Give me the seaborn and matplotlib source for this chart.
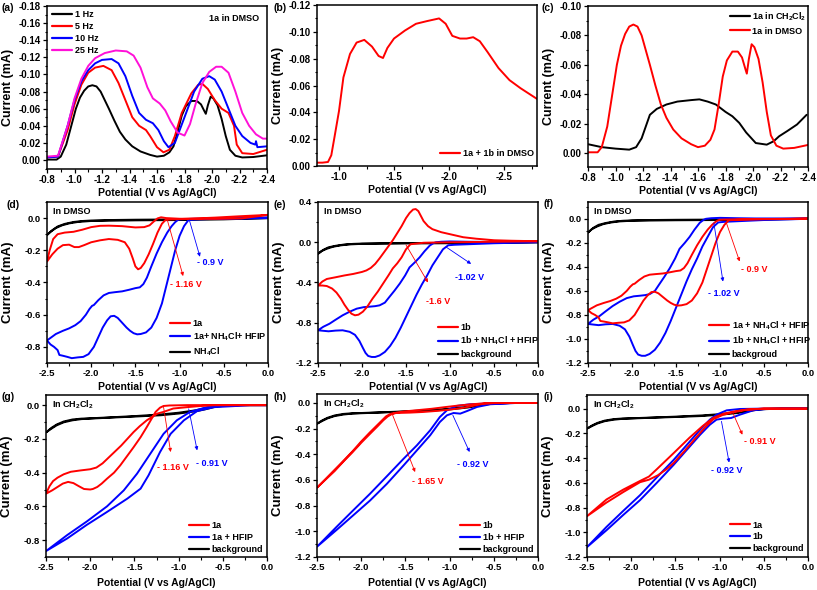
import matplotlib
matplotlib.use('Agg')
import matplotlib.pyplot as plt
import seaborn as sns
from matplotlib.lines import Line2D
from matplotlib.ticker import FixedLocator, MultipleLocator, FormatStrFormatter

# ---------------- data ----------------
# (a) square-wave voltammetry of 1a in DMSO at different frequencies
dmso_1a_v = [-0.80, -0.87, -0.90, -0.94, -0.98, -1.01, -1.04, -1.07, -1.10, -1.13, -1.16, -1.19, -1.22, -1.25,
             -1.29, -1.33, -1.37, -1.42, -1.48, -1.55, -1.60, -1.65, -1.69, -1.72, -1.75, -1.78, -1.81, -1.85,
             -1.89, -1.92, -1.945, -1.955, -1.97, -1.99, -2.01, -2.04, -2.07, -2.10, -2.13, -2.17, -2.22, -2.30, -2.40]
dmso_1a_i = [-0.0005, -0.0005, -0.004, -0.018, -0.042, -0.060, -0.073, -0.081, -0.086, -0.0874, -0.086, -0.080,
             -0.070, -0.060, -0.046, -0.033, -0.024, -0.016, -0.010, -0.006, -0.004, -0.005, -0.009, -0.016, -0.033,
             -0.052, -0.063, -0.069, -0.069, -0.065, -0.057, -0.054, -0.064, -0.074, -0.072, -0.064, -0.048, -0.028,
             -0.012, -0.005, -0.003, -0.0035, -0.0055]
hz5_v = [-0.80, -0.88, -0.95, -1.00, -1.05, -1.10, -1.15, -1.21, -1.27, -1.32, -1.37, -1.42, -1.47, -1.52, -1.55,
         -1.60, -1.647, -1.69, -1.73, -1.78, -1.85, -1.90, -1.93, -1.97, -2.02, -2.07, -2.12, -2.16, -2.18, -2.22,
         -2.30, -2.40]
hz5_i = [-0.003, -0.004, -0.035, -0.065, -0.088, -0.102, -0.108, -0.110, -0.105, -0.090, -0.070, -0.050, -0.040,
         -0.035, -0.028, -0.015, -0.009, -0.012, -0.028, -0.055, -0.078, -0.088, -0.089, -0.083, -0.070, -0.060,
         -0.055, -0.040, -0.018, -0.008, -0.007, -0.012]
hz10_v = [-0.80, -0.88, -0.95, -1.00, -1.05, -1.10, -1.15, -1.20, -1.27, -1.32, -1.37, -1.42, -1.47, -1.52, -1.57,
          -1.61, -1.65, -1.683, -1.73, -1.80, -1.87, -1.93, -1.98, -2.02, -2.07, -2.12, -2.17, -2.22, -2.28, -2.315,
          -2.32, -2.33, -2.40]
hz10_i = [-0.003, -0.004, -0.040, -0.070, -0.092, -0.105, -0.113, -0.117, -0.118, -0.113, -0.098, -0.075, -0.055,
          -0.047, -0.043, -0.035, -0.022, -0.015, -0.020, -0.050, -0.080, -0.095, -0.098, -0.094, -0.080, -0.060,
          -0.040, -0.028, -0.020, -0.018, -0.022, -0.015, -0.016]
hz25_v = [-0.80, -0.88, -0.95, -1.00, -1.05, -1.10, -1.15, -1.22, -1.30, -1.38, -1.43, -1.48, -1.53, -1.57, -1.62,
          -1.66, -1.70, -1.75, -1.80, -1.84, -1.88, -1.93, -1.98, -2.03, -2.07, -2.12, -2.17, -2.22, -2.27, -2.32,
          -2.37, -2.40]
hz25_i = [-0.004, -0.005, -0.040, -0.072, -0.095, -0.110, -0.119, -0.125, -0.128, -0.127, -0.122, -0.108, -0.085,
          -0.072, -0.066, -0.058, -0.045, -0.032, -0.0286, -0.042, -0.065, -0.090, -0.103, -0.109, -0.109, -0.102,
          -0.080, -0.055, -0.040, -0.030, -0.025, -0.025]

# (b) 1a + 1b in DMSO
mix_v = [-0.80, -0.85, -0.90, -0.93, -0.96, -1.00, -1.04, -1.10, -1.16, -1.23, -1.30, -1.36, -1.40, -1.44, -1.50,
         -1.60, -1.70, -1.80, -1.91, -1.97, -2.03, -2.10, -2.16, -2.22, -2.28, -2.35, -2.45, -2.55, -2.65, -2.80]
mix_i = [-0.0025, -0.0025, -0.003, -0.008, -0.022, -0.041, -0.066, -0.0835, -0.092, -0.094, -0.089, -0.082,
         -0.0805, -0.088, -0.095, -0.101, -0.106, -0.108, -0.110, -0.106, -0.097, -0.095, -0.095, -0.096, -0.093,
         -0.085, -0.073, -0.064, -0.058, -0.050]

# (c) 1a in CH2Cl2
dcm_1a_v = [-0.80, -0.85, -0.90, -1.00, -1.10, -1.15, -1.19, -1.22, -1.25, -1.30, -1.37, -1.45, -1.55, -1.61, -1.67,
            -1.73, -1.80, -1.85, -1.90, -1.95, -2.02, -2.10, -2.15, -2.19, -2.25, -2.32, -2.39]
dcm_1a_i = [-0.006, -0.005, -0.004, -0.003, -0.0023, -0.004, -0.010, -0.018, -0.026, -0.030, -0.033, -0.035,
            -0.036, -0.0365, -0.035, -0.033, -0.028, -0.025, -0.0205, -0.014, -0.0068, -0.0057, -0.008, -0.0114,
            -0.015, -0.0194, -0.026]

# (d) CVs in DMSO
d_1a_v = [0.0, -0.3, -0.6, -0.9, -1.1, -1.16, -1.20, -1.25, -1.30, -1.35, -1.40, -1.44, -1.47, -1.50, -1.53, -1.57,
          -1.62, -1.70, -1.80, -1.90, -2.00, -2.08, -2.14, -2.19, -2.25, -2.32, -2.38, -2.44, -2.50,
          -2.47, -2.43, -2.38, -2.30, -2.20, -2.10, -2.00, -1.90, -1.80, -1.65, -1.50, -1.40, -1.34, -1.29, -1.25,
          -1.21, -1.15, -1.00, -0.60, -0.30, 0.0]
d_1a_i = [0.02, 0.012, 0.003, -0.004, -0.008, -0.012, -0.035, -0.09, -0.16, -0.225, -0.28, -0.31, -0.318, -0.30,
          -0.25, -0.19, -0.15, -0.135, -0.13, -0.138, -0.15, -0.168, -0.18, -0.18, -0.165, -0.168, -0.19, -0.225,
          -0.27,
          -0.20, -0.13, -0.10, -0.09, -0.085, -0.072, -0.056, -0.048, -0.047, -0.05, -0.058, -0.056, -0.045, -0.02,
          -0.002, 0.005, 0.0, -0.004, -0.005, -0.002, 0.02]
am_nh4_v = [0.0, -0.5, -0.8, -0.90, -0.95, -1.00, -1.05, -1.10, -1.15, -1.20, -1.26, -1.32, -1.38, -1.44, -1.48,
            -1.52, -1.56, -1.60, -1.65, -1.70, -1.74, -1.78, -1.82, -1.87, -1.92, -1.97, -2.03, -2.09, -2.15, -2.22,
            -2.27, -2.32, -2.36, -2.38, -2.42, -2.46, -2.50,
            -2.45, -2.40, -2.32, -2.25, -2.18, -2.12, -2.06, -2.02, -1.99, -1.97, -1.92, -1.86, -1.80, -1.73, -1.65,
            -1.57, -1.50, -1.45, -1.41, -1.37, -1.32, -1.26, -1.20, -1.14, -1.09, -1.05, -1.02, -1.00, -0.95, -0.8,
            -0.5, -0.2, 0.0]
am_nh4_i = [0.0, -0.003, -0.008, -0.012, -0.05, -0.11, -0.20, -0.31, -0.42, -0.53, -0.62, -0.68, -0.71, -0.72,
            -0.722, -0.715, -0.70, -0.68, -0.65, -0.62, -0.607, -0.61, -0.635, -0.68, -0.74, -0.80, -0.845, -0.862,
            -0.865, -0.87, -0.862, -0.855, -0.85, -0.82, -0.80, -0.785, -0.76,
            -0.74, -0.72, -0.70, -0.685, -0.665, -0.64, -0.60, -0.565, -0.545, -0.54, -0.51, -0.48, -0.465, -0.46,
            -0.455, -0.445, -0.435, -0.43, -0.41, -0.37, -0.30, -0.22, -0.15, -0.09, -0.05, -0.025, -0.012, -0.008,
            -0.006, -0.004, -0.002, 0.0, 0.005]
nh4_v = [0.0, -0.5, -1.0, -1.5, -1.8, -2.0, -2.1, -2.2, -2.3, -2.38, -2.44, -2.50,
         -2.46, -2.40, -2.33, -2.25, -2.15, -2.0, -1.5, -1.0, -0.5, 0.0]
nh4_i = [0.0, -0.003, -0.008, -0.010, -0.012, -0.015, -0.018, -0.024, -0.036, -0.052, -0.075, -0.105,
         -0.085, -0.062, -0.045, -0.033, -0.024, -0.018, -0.014, -0.012, -0.008, 0.0]

# (e) CVs of 1b in DMSO
e_1b_v = [0.0, -0.5, -1.0, -1.30, -1.45, -1.50, -1.55, -1.60, -1.65, -1.70, -1.76, -1.82, -1.88, -1.94, -1.99, -2.04,
          -2.08, -2.12, -2.16, -2.20, -2.24, -2.29, -2.34, -2.40, -2.45, -2.50,
          -2.45, -2.40, -2.30, -2.20, -2.10, -2.00, -1.95, -1.90, -1.85, -1.80, -1.75, -1.70, -1.65, -1.60, -1.55,
          -1.50, -1.46, -1.42, -1.39, -1.36, -1.33, -1.30, -1.25, -1.20, -1.10, -1.00, -0.85, -0.70, -0.50, -0.30,
          0.0]
e_1b_i = [0.01, 0.005, 0.0, -0.005, -0.02, -0.07, -0.15, -0.21, -0.26, -0.33, -0.41, -0.49, -0.56, -0.64, -0.69,
          -0.72, -0.726, -0.71, -0.67, -0.62, -0.56, -0.50, -0.46, -0.435, -0.43, -0.43,
          -0.39, -0.365, -0.348, -0.33, -0.315, -0.295, -0.28, -0.255, -0.215, -0.16, -0.10, -0.04, 0.02, 0.09,
          0.16, 0.24, 0.29, 0.325, 0.33, 0.31, 0.26, 0.21, 0.16, 0.13, 0.10, 0.08, 0.05, 0.035, 0.02, 0.015, 0.01]
bm_nh4_v = [0.0, -0.5, -0.8, -0.95, -1.02, -1.08, -1.14, -1.20, -1.26, -1.32, -1.38, -1.44, -1.50, -1.56, -1.62,
            -1.68, -1.74, -1.80, -1.85, -1.89, -1.93, -1.96, -1.99, -2.03, -2.08, -2.14, -2.22, -2.30, -2.38, -2.44,
            -2.50,
            -2.44, -2.37, -2.30, -2.22, -2.14, -2.06, -1.98, -1.91, -1.85, -1.80, -1.74, -1.69, -1.63, -1.57, -1.51,
            -1.46, -1.40, -1.345, -1.29, -1.23, -1.19, -1.16, -1.10, -1.0, -0.8, -0.6, -0.3, 0.0]
bm_nh4_i = [0.0, -0.01, -0.02, -0.025, -0.03, -0.07, -0.15, -0.23, -0.33, -0.42, -0.52, -0.63, -0.74, -0.85,
            -0.95, -1.03, -1.09, -1.125, -1.14, -1.14, -1.13, -1.10, -1.05, -0.98, -0.92, -0.89, -0.875, -0.878,
            -0.885, -0.88, -0.875,
            -0.84, -0.81, -0.77, -0.726, -0.69, -0.66, -0.645, -0.64, -0.635, -0.627, -0.60, -0.545, -0.48, -0.41,
            -0.33, -0.25, -0.20, -0.15, -0.09, -0.033, -0.01, 0.0, 0.005, 0.008, 0.005, 0.003, 0.003, 0.005]
bg_dmso_v = [0.0, -0.5, -1.0, -1.5, -1.8, -2.0, -2.1, -2.2, -2.3, -2.38, -2.44, -2.50,
             -2.46, -2.40, -2.33, -2.25, -2.15, -2.0, -1.5, -1.0, -0.5, 0.0]
bg_dmso_i = [0.0, -0.003, -0.006, -0.008, -0.010, -0.013, -0.016, -0.022, -0.035, -0.050, -0.075, -0.115,
             -0.088, -0.065, -0.045, -0.032, -0.022, -0.016, -0.012, -0.010, -0.006, 0.0]

# (g)-(i) CVs in CH2Cl2
g_1a_v = [0.0, -0.5, -0.9, -1.10, -1.17, -1.21, -1.26, -1.31, -1.36, -1.43, -1.51, -1.58, -1.66, -1.73, -1.81, -1.87,
          -1.92, -1.97, -2.00, -2.07, -2.13, -2.19, -2.25, -2.31, -2.37, -2.43, -2.50,
          -2.46, -2.42, -2.37, -2.30, -2.22, -2.11, -2.00, -1.93, -1.86, -1.79, -1.72, -1.65, -1.58, -1.51, -1.44,
          -1.36, -1.30, -1.24, -1.17, -1.06, -0.90, -0.75, -0.60, -0.3, 0.0]
g_1a_i = [0.0, 0.0, 0.0, -0.002, -0.005, -0.015, -0.04, -0.085, -0.13, -0.19, -0.25, -0.30, -0.357, -0.40, -0.436,
          -0.465, -0.485, -0.497, -0.50, -0.497, -0.48, -0.462, -0.455, -0.465, -0.485, -0.505, -0.525,
          -0.48, -0.45, -0.43, -0.41, -0.395, -0.387, -0.38, -0.37, -0.345, -0.31, -0.275, -0.24, -0.20, -0.16,
          -0.125, -0.09, -0.07, -0.05, -0.04, -0.02, -0.012, -0.005, 0.0, 0.0, 0.0]
g_hfip_v = [0.0, -0.3, -0.53, -0.68, -0.87, -1.02, -1.17, -1.32, -1.47, -1.62, -1.81, -2.04, -2.26, -2.50,
            -2.26, -2.04, -1.81, -1.58, -1.43, -1.34, -1.21, -1.09, -0.94, -0.79, -0.60, -0.38, -0.19, 0.0]
g_hfip_i = [0.0, 0.0, 0.0, -0.012, -0.04, -0.09, -0.17, -0.288, -0.406, -0.505, -0.60, -0.69, -0.77, -0.865,
            -0.79, -0.71, -0.633, -0.554, -0.495, -0.416, -0.278, -0.17, -0.09, -0.035, -0.012, -0.006, 0.0, 0.0]
h_1b_v = [0.0, -0.3, -0.6, -0.75, -0.9, -1.05, -1.2, -1.35, -1.5, -1.6, -1.65, -1.70, -1.75, -1.82, -1.90, -2.00,
          -2.10, -2.20, -2.30, -2.40, -2.50,
          -2.40, -2.30, -2.20, -2.10, -2.00, -1.90, -1.80, -1.72, -1.67, -1.60, -1.45, -1.30, -1.15, -1.00, -0.85,
          -0.72, -0.62, -0.5, 0.0]
h_1b_i = [0.0, 0.0, -0.002, -0.01, -0.02, -0.032, -0.045, -0.055, -0.065, -0.075, -0.085, -0.105, -0.135, -0.185,
          -0.24, -0.31, -0.385, -0.455, -0.53, -0.595, -0.66,
          -0.59, -0.52, -0.45, -0.378, -0.30, -0.228, -0.16, -0.105, -0.085, -0.078, -0.075, -0.07, -0.062, -0.052,
          -0.038, -0.02, -0.006, 0.0, 0.0]
h_hfip_v = [0.0, -0.25, -0.39, -0.54, -0.69, -0.80, -0.88, -0.955, -1.03, -1.11, -1.22, -1.37, -1.52, -1.71, -1.90,
            -2.09, -2.28, -2.50,
            -2.28, -2.09, -1.90, -1.71, -1.52, -1.37, -1.22, -1.11, -1.03, -0.92, -0.77, -0.58, -0.3, 0.0]
h_hfip_i = [0.0, 0.0, -0.005, -0.01, -0.031, -0.062, -0.083, -0.078, -0.096, -0.148, -0.252, -0.369, -0.486, -0.63,
            -0.76, -0.875, -0.99, -1.12,
            -0.966, -0.836, -0.707, -0.571, -0.434, -0.33, -0.213, -0.109, -0.057, -0.023, -0.01, -0.005, 0.0, 0.0]
i_1a_v = [0.0, -0.5, -0.7, -0.85, -0.96, -1.07, -1.17, -1.28, -1.40, -1.52, -1.60, -1.70, -1.80, -1.90, -2.09, -2.28,
          -2.50,
          -2.28, -2.09, -1.90, -1.80, -1.71, -1.52, -1.34, -1.19, -1.07, -0.96, -0.85, -0.70, -0.5, 0.0]
i_1a_i = [0.0, 0.0, -0.01, -0.03, -0.05, -0.085, -0.155, -0.245, -0.345, -0.44, -0.49, -0.54, -0.575, -0.595,
          -0.675, -0.76, -0.87,
          -0.735, -0.655, -0.585, -0.55, -0.49, -0.36, -0.235, -0.14, -0.075, -0.042, -0.025, -0.008, 0.0, 0.0]
i_1b_v = [0.0, -0.25, -0.47, -0.62, -0.77, -0.87, -0.96, -1.035, -1.11, -1.22, -1.37, -1.52, -1.71, -1.90, -2.09,
          -2.28, -2.50,
          -2.28, -2.09, -1.90, -1.71, -1.52, -1.37, -1.22, -1.11, -1.035, -0.92, -0.77, -0.5, 0.0]
i_1b_i = [0.0, 0.0, -0.003, -0.014, -0.049, -0.076, -0.081, -0.089, -0.13, -0.211, -0.333, -0.455, -0.60, -0.74,
          -0.86, -0.984, -1.12,
          -0.957, -0.827, -0.70, -0.556, -0.415, -0.293, -0.171, -0.089, -0.049, -0.014, -0.003, 0.0, 0.0]
bg_dcm_v = [0.0, -0.3, -0.5, -0.6, -0.7, -0.8, -1.0, -1.2, -1.5, -1.8, -2.0, -2.1, -2.2, -2.3, -2.38, -2.44, -2.50,
            -2.44, -2.38, -2.3, -2.2, -2.1, -2.0, -1.8, -1.5, -1.2, -1.0, -0.8, -0.7, -0.6, -0.5, -0.3, 0.0]
bg_dcm_i = [0.0, 0.0, -0.003, -0.008, -0.018, -0.030, -0.045, -0.055, -0.065, -0.073, -0.078, -0.080, -0.085,
            -0.097, -0.115, -0.135, -0.162,
            -0.140, -0.120, -0.102, -0.090, -0.083, -0.080, -0.075, -0.068, -0.060, -0.050, -0.036, -0.025, -0.012,
            -0.005, 0.0, 0.0]

# tick values
ticks_a_y = [0.00, -0.02, -0.04, -0.06, -0.08, -0.10, -0.12, -0.14, -0.16, -0.18]
ticks_b_y = [0.00, -0.02, -0.04, -0.06, -0.08, -0.10, -0.12]
ticks_c_y = [0.00, -0.02, -0.04, -0.06, -0.08, -0.10]
ticks_ac_x = [-0.8, -1.0, -1.2, -1.4, -1.6, -1.8, -2.0, -2.2, -2.4]
ticks_b_x = [-1.0, -1.5, -2.0, -2.5]
ticks_cv_x = [-2.5, -2.0, -1.5, -1.0, -0.5, 0.0]
ticks_d_y = [0.0, -0.2, -0.4, -0.6, -0.8]
ticks_e_y = [0.4, 0.0, -0.4, -0.8, -1.2]
ticks_f_y = [0.0, -0.2, -0.4, -0.6, -0.8, -1.0, -1.2]

# ---------------- styling ----------------
sns.set_theme(style='ticks')
plt.rcParams['font.family'] = ['Liberation Sans', 'DejaVu Sans']
plt.rcParams['font.weight'] = 'bold'
plt.rcParams['axes.labelweight'] = 'bold'
plt.rcParams['axes.unicode_minus'] = False
plt.rcParams['mathtext.fontset'] = 'custom'
plt.rcParams['mathtext.rm'] = 'Liberation Sans:bold'
plt.rcParams['mathtext.it'] = 'Liberation Sans:bold'
plt.rcParams['mathtext.bf'] = 'Liberation Sans:bold'
plt.rcParams['text.color'] = 'black'
plt.rcParams['axes.labelcolor'] = 'black'
plt.rcParams['xtick.color'] = 'black'
plt.rcParams['ytick.color'] = 'black'

RED = '#ff0000'
BLUE = '#0000ff'
BLACK = '#000000'
MAG = '#ff10d8'

W, H = 817, 590
fig = plt.figure(figsize=(W / 100, H / 100), dpi=100)


def add_ax(l, t, r, b):
    return fig.add_axes([l / W, 1 - b / H, (r - l) / W, (b - t) / H])


def curve(ax, v, i, color, lw=1.4):
    sns.lineplot(x=v, y=i, sort=False, estimator=None, color=color, linewidth=lw, ax=ax)


def style(ax, xlim, ylim, xt, yt, xminor, yminor, xfmt, yfmt, tsize, ysize, xlab_y, ylab_x=-0.15):
    ax.set_xlim(xlim)
    ax.set_ylim(ylim)
    ax.xaxis.set_major_locator(FixedLocator(xt))
    ax.yaxis.set_major_locator(FixedLocator(yt))
    ax.xaxis.set_minor_locator(MultipleLocator(xminor))
    ax.yaxis.set_minor_locator(MultipleLocator(yminor))
    ax.xaxis.set_major_formatter(FormatStrFormatter(xfmt))
    ax.yaxis.set_major_formatter(FormatStrFormatter(yfmt))
    ax.tick_params(which='major', direction='out', length=3, width=0.9, labelsize=tsize, pad=1.5)
    ax.tick_params(which='minor', direction='out', length=1.8, width=0.8)
    for sp in ax.spines.values():
        sp.set_visible(True)
        sp.set_linewidth(1.1)
        sp.set_color('black')
    ax.set_xlabel('Potential (V vs Ag/AgCl)', fontsize=7.5, fontweight='bold')
    ax.set_ylabel('Current (mA)', fontsize=ysize, fontweight='bold')
    ax.xaxis.set_label_coords(0.5, xlab_y)
    ax.yaxis.set_label_coords(ylab_x, 0.5)
    for lab in ax.get_xticklabels() + ax.get_yticklabels():
        lab.set_fontweight('bold')


def legend(ax, entries, loc, anchor, size=6.5, sp=0.3):
    handles = [Line2D([], [], color=c, lw=1.6) for c, _ in entries]
    labels = [t for _, t in entries]
    ax.legend(handles, labels, loc=loc, bbox_to_anchor=anchor, frameon=False,
              handlelength=2.2, handletextpad=0.3, labelspacing=sp, borderpad=0, borderaxespad=0,
              prop={'weight': 'bold', 'size': size})


def arrow(ax, start, end, color, text, tpos):
    ax.annotate('', xy=end, xytext=start,
                arrowprops=dict(arrowstyle='-|>', color=color, lw=0.6, mutation_scale=5,
                                shrinkA=0, shrinkB=0))
    ax.text(tpos[0], tpos[1], text, color=color, fontsize=6.5, fontweight='bold', ha='left', va='center')


# (a)
ax = add_ax(47, 6, 267, 169)
curve(ax, dmso_1a_v, dmso_1a_i, BLACK)
curve(ax, hz5_v, hz5_i, RED)
curve(ax, hz10_v, hz10_i, BLUE)
curve(ax, hz25_v, hz25_i, MAG)
style(ax, (-0.8, -2.4), (0.0105, -0.18), ticks_ac_x, ticks_a_y, 0.1, 0.01, '%.1f', '%.2f', 7, 9, -0.115)
legend(ax, [(BLACK, '1 Hz'), (RED, '5 Hz'), (BLUE, '10 Hz'), (MAG, '25 Hz')], 'upper left', (0.023, 0.975),
       sp=0.32)
ax.text(0.965, 0.925, '1a in DMSO', transform=ax.transAxes, ha='right', va='center', fontsize=6.5,
        fontweight='bold')

# (b)
ax = add_ax(317, 5, 537, 166)
curve(ax, mix_v, mix_i, RED)
style(ax, (-0.8, -2.8), (0.0, -0.12), ticks_b_x, ticks_b_y, 0.25, 0.01, '%.1f', '%.2f', 7, 9, -0.12)
legend(ax, [(RED, '1a + 1b in DMSO')], 'lower left', (0.559, 0.05))

# (c)
ax = add_ax(588, 6, 808, 167)
curve(ax, dcm_1a_v, dcm_1a_i, BLACK)
curve(ax, dmso_1a_v, dmso_1a_i, RED)
style(ax, (-0.8, -2.4), (0.0095, -0.10), ticks_ac_x, ticks_c_y, 0.1, 0.01, '%.1f', '%.2f', 7, 9, -0.12)
legend(ax, [(BLACK, '1a in CH$_2$Cl$_2$'), (RED, '1a in DMSO')], 'upper left', (0.645, 0.975), sp=0.45)

# (d)
ax = add_ax(47, 202, 268, 363)
curve(ax, nh4_v, nh4_i, BLACK)
curve(ax, am_nh4_v, am_nh4_i, BLUE)
curve(ax, d_1a_v, d_1a_i, RED)
style(ax, (-2.5, 0.0), (-0.9, 0.1), ticks_cv_x, ticks_d_y, 0.25, 0.1, '%.1f', '%.1f', 6.8, 9.5, -0.115)
legend(ax, [(RED, '1a'), (BLUE, '1a+ NH$_4$Cl+ HFIP'), (BLACK, 'NH$_4$Cl')], 'lower left', (0.557, 0.03))
ax.text(0.025, 0.94, 'In DMSO', transform=ax.transAxes, ha='left', va='center', fontsize=6.5, fontweight='bold')
arrow(ax, (-1.14, -0.01), (-0.96, -0.36), RED, '- 1.16 V', (-1.11, -0.414))
arrow(ax, (-0.89, -0.012), (-0.77, -0.24), BLUE, '- 0.9 V', (-0.80, -0.274))

# (e)
ax = add_ax(318, 202, 538, 363)
curve(ax, bg_dmso_v, bg_dmso_i, BLACK)
curve(ax, bm_nh4_v, bm_nh4_i, BLUE)
curve(ax, e_1b_v, e_1b_i, RED)
style(ax, (-2.5, 0.0), (-1.2, 0.4), ticks_cv_x, ticks_e_y, 0.25, 0.2, '%.1f', '%.1f', 6.8, 9.5, -0.115)
legend(ax, [(RED, '1b'), (BLUE, '1b + NH$_4$Cl + HFIP'), (BLACK, 'background')], 'lower left', (0.545, 0.025))
ax.text(0.025, 0.94, 'In DMSO', transform=ax.transAxes, ha='left', va='center', fontsize=6.5, fontweight='bold')
arrow(ax, (-1.50, -0.026), (-1.25, -0.40), RED, '-1.6 V', (-1.27, -0.584))
arrow(ax, (-1.04, -0.05), (-0.76, -0.215), BLUE, '-1.02 V', (-0.947, -0.353))

# (f)
ax = add_ax(588, 202, 808, 363)
curve(ax, bg_dmso_v, bg_dmso_i, BLACK)
curve(ax, bm_nh4_v, bm_nh4_i, BLUE)
curve(ax, am_nh4_v, am_nh4_i, RED)
style(ax, (-2.5, 0.0), (-1.2, 0.14), ticks_cv_x, ticks_f_y, 0.25, 0.1, '%.1f', '%.1f', 6.8, 9.5, -0.115)
legend(ax, [(RED, '1a + NH$_4$Cl + HFIP'), (BLUE, '1b + NH$_4$Cl + HFIP'), (BLACK, 'backgroud')], 'lower left',
       (0.55, 0.025))
ax.text(0.025, 0.94, 'In DMSO', transform=ax.transAxes, ha='left', va='center', fontsize=6.5, fontweight='bold')
arrow(ax, (-0.93, -0.028), (-0.777, -0.355), RED, '- 0.9 V', (-0.758, -0.419))
arrow(ax, (-1.07, -0.034), (-0.966, -0.522), BLUE, '- 1.02 V', (-1.136, -0.62))

# (g)
ax = add_ax(46, 395, 267, 557)
curve(ax, bg_dcm_v, bg_dcm_i, BLACK)
curve(ax, g_hfip_v, g_hfip_i, BLUE)
curve(ax, g_1a_v, g_1a_i, RED)
style(ax, (-2.5, 0.0), (-0.9, 0.06), ticks_cv_x, ticks_d_y, 0.25, 0.1, '%.1f', '%.1f', 6.8, 9.5, -0.13)
legend(ax, [(RED, '1a'), (BLUE, '1a + HFIP'), (BLACK, 'background')], 'lower left', (0.647, 0.02))
ax.text(0.025, 0.94, 'In CH$_2$Cl$_2$', transform=ax.transAxes, ha='left', va='center', fontsize=6.5,
        fontweight='bold')
arrow(ax, (-1.17, -0.012), (-1.09, -0.278), RED, '- 1.16 V', (-1.245, -0.37))
arrow(ax, (-0.886, -0.022), (-0.79, -0.268), BLUE, '- 0.91 V', (-0.80, -0.343))

# (h)
ax = add_ax(317, 394, 538, 557)
curve(ax, bg_dcm_v, bg_dcm_i, BLACK)
curve(ax, h_hfip_v, h_hfip_i, BLUE)
curve(ax, h_1b_v, h_1b_i, RED)
style(ax, (-2.5, 0.0), (-1.2, 0.07), ticks_cv_x, ticks_f_y, 0.25, 0.1, '%.1f', '%.1f', 6.8, 9.5, -0.13)
legend(ax, [(RED, '1b'), (BLUE, '1b + HFIP'), (BLACK, 'background')], 'lower left', (0.647, 0.02))
ax.text(0.025, 0.94, 'In CH$_2$Cl$_2$', transform=ax.transAxes, ha='left', va='center', fontsize=6.5,
        fontweight='bold')
arrow(ax, (-1.654, -0.078), (-1.39, -0.538), RED, '- 1.65 V', (-1.43, -0.608))
arrow(ax, (-0.963, -0.096), (-0.774, -0.382), BLUE, '- 0.92 V', (-0.918, -0.478))

# (i)
ax = add_ax(587, 395, 808, 557)
curve(ax, bg_dcm_v, bg_dcm_i, BLACK)
curve(ax, i_1b_v, i_1b_i, BLUE)
curve(ax, i_1a_v, i_1a_i, RED)
style(ax, (-2.5, 0.0), (-1.2, 0.11), ticks_cv_x, ticks_f_y, 0.25, 0.1, '%.1f', '%.1f', 6.8, 9.5, -0.13)
legend(ax, [(RED, '1a'), (BLUE, '1b'), (BLACK, 'background')], 'lower left', (0.647, 0.025))
ax.text(0.025, 0.94, 'In CH$_2$Cl$_2$', transform=ax.transAxes, ha='left', va='center', fontsize=6.5,
        fontweight='bold')
arrow(ax, (-0.847, -0.04), (-0.742, -0.211), RED, '- 0.91 V', (-0.727, -0.266))
arrow(ax, (-0.979, -0.103), (-0.892, -0.436), BLUE, '- 0.92 V', (-1.092, -0.504))

# panel letters
for lab, x, y in [('(a)', 2, 8), ('(b)', 273, 8), ('(c)', 542, 8), ('(d)', 7, 205), ('(e)', 273, 205),
                  ('(f)', 543, 204), ('(g)', 2, 397), ('(h)', 273, 397), ('(i)', 543, 397)]:
    fig.text(x / W, 1 - y / H, lab, fontsize=7.5, fontweight='bold', ha='left', va='center')

fig.savefig('out.png', dpi=100)
